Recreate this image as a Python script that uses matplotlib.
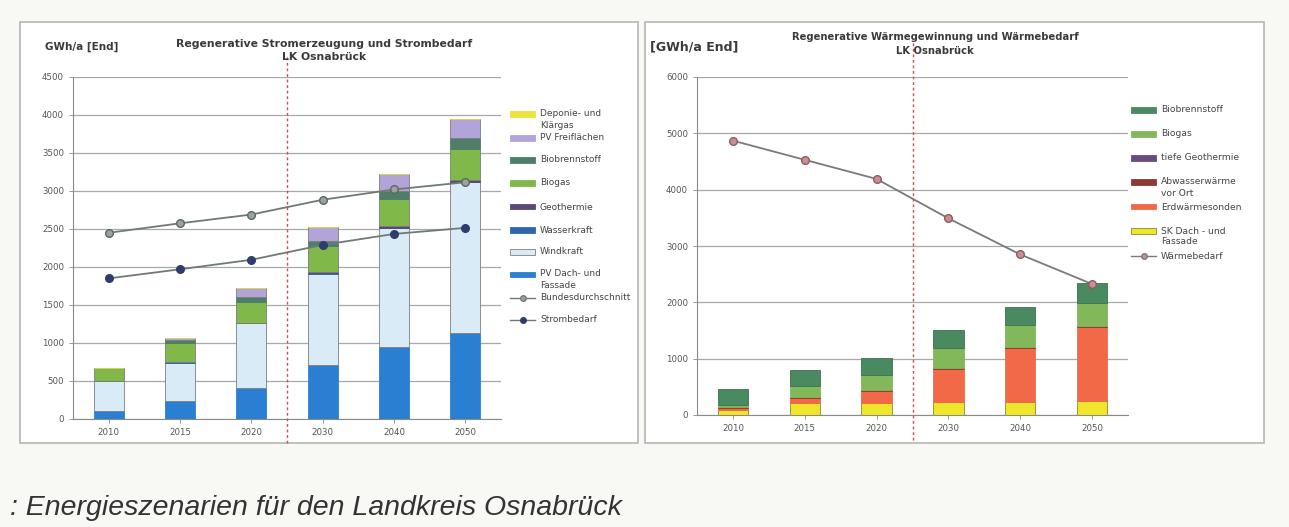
import matplotlib.pyplot as plt
from matplotlib.patches import Rectangle
from matplotlib.lines import Line2D
import numpy as np

years = ["2010", "2015", "2020", "2030", "2040", "2050"]

# left chart: electricity (GWh/a)
pv_dach = [100, 240, 405, 715, 945, 1135]
windkraft = [400, 500, 855, 1195, 1565, 1980]
wasserkraft = [5, 5, 5, 5, 5, 5]
geothermie = [0, 0, 0, 15, 20, 20]
biogas_s = [170, 250, 280, 350, 365, 415]
biobrenn_s = [0, 40, 65, 65, 100, 140]
pv_frei = [0, 25, 120, 185, 225, 250]
deponie = [0, 0, 0, 0, 0, 0]
bundesdurchschnitt = [2450, 2575, 2690, 2885, 3020, 3115]
strombedarf = [1850, 1970, 2095, 2290, 2435, 2515]

# right chart: heat (GWh/a)
sk_dach = [95, 210, 210, 230, 230, 245]
erdwaerme = [35, 100, 210, 590, 955, 1310]
abwasser = [5, 10, 15, 20, 20, 25]
tiefe_geo = [0, 0, 0, 0, 0, 0]
biogas_w = [35, 190, 270, 355, 390, 415]
biobrenn_w = [300, 285, 310, 310, 325, 340]
waermebedarf = [4870, 4530, 4190, 3490, 2850, 2325]

W, H = 1289, 527
fig = plt.figure(figsize=(W / 100, H / 100), dpi=100, facecolor="#f8f8f5")

# panel frames
for x0, x1 in [(20, 638), (645, 1264)]:
    fig.add_artist(Rectangle((x0 / W, 1 - 443 / H), (x1 - x0) / W, (443 - 22) / H,
                             transform=fig.transFigure, facecolor="white",
                             edgecolor="#b5b5b5", lw=1.2, zorder=0))

ax1 = fig.add_axes([73 / W, 1 - 419 / H, (501 - 73) / W, (419 - 77) / H])
ax2 = fig.add_axes([697 / W, 1 - 415 / H, (1128 - 697) / W, (415 - 77) / H])

x = np.arange(len(years))
bw = 0.42
edge = "#7d7d7d"


def stack(ax, layers):
    bottom = np.zeros(len(years))
    for vals, col, ec in layers:
        vals = np.array(vals, dtype=float)
        ax.bar(x, vals, bw, bottom=bottom, color=col, edgecolor=ec, lw=0.6, zorder=3)
        bottom += vals


c_pvd, c_wind, c_wass, c_geo = "#2b7fd2", "#d9ebf6", "#2f66b0", "#5a4878"
c_biog, c_biob, c_pvf, c_dep = "#80b84a", "#4e7e68", "#b2a3d8", "#ece33c"

stack(ax1, [(pv_dach, c_pvd, c_pvd), (windkraft, c_wind, edge), (wasserkraft, c_wass, c_wass),
            (geothermie, c_geo, c_geo), (biogas_s, c_biog, edge), (biobrenn_s, c_biob, c_biob),
            (pv_frei, c_pvf, edge), (deponie, c_dep, c_dep)])
ax1.plot(x, bundesdurchschnitt, color="#6f7a74", lw=1.3, marker="o", ms=5.5,
         mfc="#9aa39c", mec="#5d665f", zorder=4)
ax1.plot(x, strombedarf, color="#6f7a74", lw=1.3, marker="o", ms=5.5,
         mfc="#2e3d6e", mec="#2e3d6e", zorder=4)

c_sk, c_erd, c_abw, c_tgeo = "#efe52a", "#f26947", "#8c3a34", "#6a4c80"
c_wbiog, c_wbiob = "#82b85a", "#4a8a60"
stack(ax2, [(sk_dach, c_sk, "#8a8a30"), (erdwaerme, c_erd, c_erd), (abwasser, c_abw, c_abw),
            (tiefe_geo, c_tgeo, c_tgeo), (biogas_w, c_wbiog, c_wbiog), (biobrenn_w, c_wbiob, "#3f6f52")])
ax2.plot(x, waermebedarf, color="#7a7a7a", lw=1.3, marker="o", ms=5.5,
         mfc="#c98f92", mec="#8e5a5c", zorder=4)

for ax, top, step in [(ax1, 4500, 500), (ax2, 6000, 1000)]:
    ax.set_xlim(-0.5, 5.5)
    ax.set_ylim(0, top)
    ax.set_yticks(np.arange(0, top + 1, step))
    ax.set_xticks(x)
    ax.set_xticklabels(years)
    ax.yaxis.grid(True, color="#a8a8a8", lw=0.9, zorder=1)
    ax.set_axisbelow(True)
    for s in ["top", "right"]:
        ax.spines[s].set_visible(False)
    for s in ["left", "bottom"]:
        ax.spines[s].set_color("#8a8a8a")
        ax.spines[s].set_linewidth(0.8)
    ax.tick_params(labelsize=6.2, colors="#8a8a8a", labelcolor="#555555", length=3, width=0.6)
    ax.set_facecolor("white")

ax1.axvline(2.5, ymin=-0.07, ymax=1.064, color="#d9455a", lw=1.0, ls=(0, (2, 2)),
            clip_on=False, zorder=5)
ax2.axvline(2.5, ymin=-0.074, ymax=1.11, color="#d9455a", lw=1.0, ls=(0, (2, 2)),
            clip_on=False, zorder=5)

# titles
tc = "#3a3a3a"
fig.text(324 / W, 1 - 44 / H, "Regenerative Stromerzeugung und Strombedarf", ha="center", va="center",
         fontsize=7.8, fontweight="bold", color=tc)
fig.text(324 / W, 1 - 57 / H, "LK Osnabrück", ha="center", va="center",
         fontsize=7.8, fontweight="bold", color=tc)
fig.text(45 / W, 1 - 47 / H, "GWh/a [End]", ha="left", va="center",
         fontsize=7.5, fontweight="bold", color=tc)
fig.text(935 / W, 1 - 37 / H, "Regenerative Wärmegewinnung und Wärmebedarf", ha="center", va="center",
         fontsize=7.2, fontweight="bold", color=tc)
fig.text(935 / W, 1 - 51 / H, "LK Osnabrück", ha="center", va="center",
         fontsize=7.2, fontweight="bold", color=tc)
fig.text(650 / W, 1 - 47 / H, "[GWh/a End]", ha="left", va="center",
         fontsize=9, fontweight="bold", color=tc)


def legend(px, ys, entries, fs):
    # entries: (kind, face, edgecolor/line, label); ys: pixel row of each entry
    for y, (kind, fc, ec, label) in zip(ys, entries):
        if kind == "patch":
            fig.add_artist(Rectangle(((px) / W, 1 - (y + 2.5) / H), 25 / W, 5 / H,
                                     transform=fig.transFigure, facecolor=fc, edgecolor=ec, lw=0.6))
        else:
            fig.add_artist(Line2D([px / W, (px + 25) / W], [1 - y / H, 1 - y / H],
                                  transform=fig.transFigure, color=ec, lw=1.0))
            fig.add_artist(Line2D([(px + 12.5) / W], [1 - y / H], transform=fig.transFigure,
                                  marker="o", ms=4, mfc=fc, mec=ec if fc != "#2e3d6e" else fc))
        for k, line in enumerate(label.split("\n")):
            fig.text((px + 30) / W, 1 - (y + 11 * k) / H, line, ha="left", va="center",
                     fontsize=fs, color="#444444")


leg1 = [("patch", c_dep, c_dep, "Deponie- und\nKlärgas"), ("patch", c_pvf, c_pvf, "PV Freiflächen"),
        ("patch", c_biob, c_biob, "Biobrennstoff"), ("patch", c_biog, c_biog, "Biogas"),
        ("patch", c_geo, c_geo, "Geothermie"), ("patch", c_wass, c_wass, "Wasserkraft"),
        ("patch", c_wind, edge, "Windkraft"), ("patch", c_pvd, c_pvd, "PV Dach- und\nFassade"),
        ("line", "#9aa39c", "#6f7a74", "Bundesdurchschnitt"), ("line", "#2e3d6e", "#6f7a74", "Strombedarf")]
legend(510, [114, 138, 160, 183, 207, 230, 252, 274, 298, 320], leg1, 6.5)

leg2 = [("patch", c_wbiob, c_wbiob, "Biobrennstoff"), ("patch", c_wbiog, c_wbiog, "Biogas"),
        ("patch", c_tgeo, c_tgeo, "tiefe Geothermie"), ("patch", c_abw, c_abw, "Abwasserwärme\nvor Ort"),
        ("patch", c_erd, c_erd, "Erdwärmesonden"), ("patch", c_sk, "#8a8a30", "SK Dach - und\nFassade"),
        ("line", "#c98f92", "#7a7a7a", "Wärmebedarf")]
legend(1131, [110, 134, 158, 182, 207, 231, 256], leg2, 6.6)

fig.text(10 / W, 1 - 508 / H, ": Energieszenarien für den Landkreis Osnabrück", ha="left", va="center",
         fontsize=20.5, style="italic", family="Liberation Sans", color="#333333")

fig.savefig("out.png", dpi=100, facecolor=fig.get_facecolor())
